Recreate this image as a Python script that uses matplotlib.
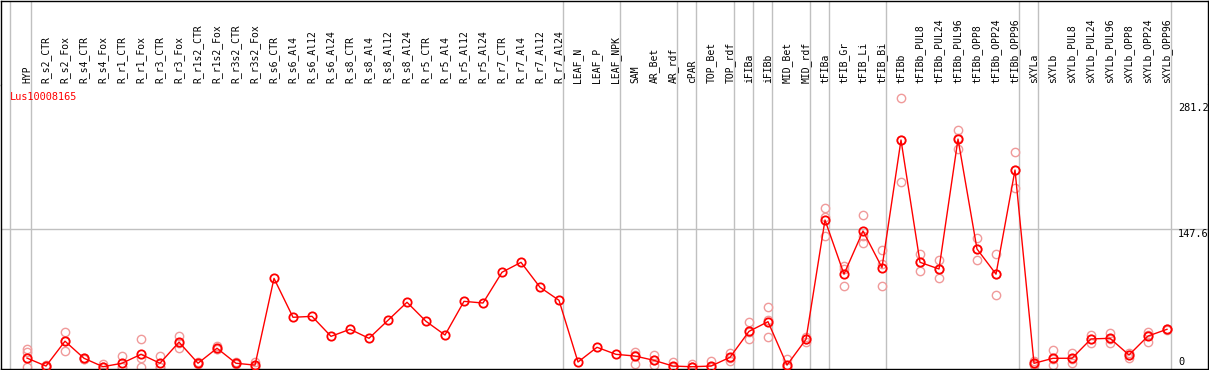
import numpy as np
import matplotlib
matplotlib.use('Agg')
import matplotlib.pyplot as plt

# sample names (columns)
samples = ['HYP', 'R_s2_CTR', 'R_s2_Fox', 'R_s4_CTR', 'R_s4_Fox', 'R_r1_CTR', 'R_r1_Fox',
           'R_r3_CTR', 'R_r3_Fox', 'R_r1s2_CTR', 'R_r1s2_Fox', 'R_r3s2_CTR', 'R_r3s2_Fox',
           'R_s6_CTR', 'R_s6_Al4', 'R_s6_Al12', 'R_s6_Al24', 'R_s8_CTR', 'R_s8_Al4',
           'R_s8_Al12', 'R_s8_Al24', 'R_r5_CTR', 'R_r5_Al4', 'R_r5_Al12', 'R_r5_Al24',
           'R_r7_CTR', 'R_r7_Al4', 'R_r7_Al12', 'R_r7_Al24', 'LEAF_N', 'LEAF_P', 'LEAF_NPK',
           'SAM', 'AR_Bet', 'AR_rdf', 'cPAR', 'TOP_Bet', 'TOP_rdf', 'iFIBa', 'iFIBb',
           'MID_Bet', 'MID_rdf', 'tFIBa', 'tFIB_Gr', 'tFIB_Li', 'tFIB_Bi', 'tFIBb',
           'tFIBb_PUL8', 'tFIBb_PUL24', 'tFIBb_PUL96', 'tFIBb_OPP8', 'tFIBb_OPP24',
           'tFIBb_OPP96', 'sXYLa', 'sXYLb', 'sXYLb_PUL8', 'sXYLb_PUL24', 'sXYLb_PUL96',
           'sXYLb_OPP8', 'sXYLb_OPP24', 'sXYLb_OPP96']

# mean expression per sample
means = [9.5, 1, 27.5, 9.3, 0.3, 4, 13.5, 4, 26.5, 4, 20, 4, 2,
         94.5, 53, 54, 32.7, 40.2, 30.6, 49.8, 69, 48.7, 34.1, 70, 68.2,
         101, 111.6, 85, 71.1, 5.3, 21, 13.5,
         11.7, 7.1, 1, 0.3, 1, 10.3, 38, 48.3, 2, 29.5,
         156.7, 99, 145, 106, 242, 111.6, 104.5, 243, 125.8, 99, 210,
         3.9, 9.3, 9.3, 29.9, 30.6, 12.8, 33, 40.2]

# replicate values (empty where none shown)
replicates = [[19, 16, 0], [1, 0, 2], [37, 17, 28], [9, 9, 10], [3, 0, 0],
              [12, 0, 0], [30, 0, 10], [12, 0, 0], [33, 20, 26], [5, 3, 4],
              [22, 19, 19], [5, 3, 4], [5, 0, 1],
              [], [], [], [], [], [], [], [], [], [], [], [], [], [], [], [],
              [], [], [],
              [16, 13, 3], [12.8, 2, 7], [5, 0, 0], [3, 0, 0], [6.7, 0, 0],
              [14.6, 6.7, 10], [47.6, 29.5, 37], [63.6, 31.7, 50], [8.2, 0, 0],
              [32, 27, 29.5],
              [170, 159.6, 140], [108, 104, 86], [162, 140, 132.5], [124.7, 110, 86],
              [286.5, 197, 242], [121, 102, 112], [114, 94.6, 105], [252.7, 232.4, 244],
              [138, 114, 126], [121, 76.8, 99], [229, 190.5, 210],
              [6, 2, 3], [18, 2, 8], [15.3, 4, 9], [34, 26, 30], [36, 26, 30],
              [15, 10, 13], [37.6, 27, 34], [41, 40, 39]]

# group boundaries (after these columns)
group_ends = [0, 28, 31, 34, 35, 37, 38, 39, 41, 42, 45, 52, 53, 60]
ytick_vals = [281.2, 147.6, 0]
gene = 'Lus10008165'

W, H = 1209, 370
fig = plt.figure(figsize=(W / 100, H / 100), dpi=100)
mono = 'DejaVu Sans Mono'

x = np.arange(len(samples))
xl = ((1 - 27) / 19, (1208 - 27) / 19)

# header with the sample names
hax = fig.add_axes([1 / W, 1 - 85 / H, 1207 / W, 84.5 / H])
hax.set_xlim(xl)
hax.set_ylim(0, 1)
hax.set_xticks([])
hax.set_yticks([])
for s in hax.spines.values():
    s.set_linewidth(1)
hax.spines['bottom'].set_visible(False)
for i, name in enumerate(samples):
    hax.text(i, 0.025, name, rotation=90, ha='center', va='bottom',
             fontsize=7, family=mono, color='black')

# main plot
ax = fig.add_axes([1 / W, 1 / H, 1207 / W, 284 / H])
ax.set_xlim(xl)
ax.set_ylim((367 - 369) / 0.938, (367 - 85) / 0.938)
ax.set_xticks([])
ax.set_yticks([])
for s in ax.spines.values():
    s.set_linewidth(1)
ax.spines['top'].set_visible(False)

sep = [-17 / 19] + [g + 3.5 / 19 for g in group_ends]
for a in (ax, hax):
    for xs in sep:
        a.axvline(xs, color='#c0c0c0', lw=1, zorder=0)
ax.axhline(147.6, color='#c0c0c0', lw=1, zorder=0)

for i, reps in enumerate(replicates):
    if reps:
        ax.plot([i] * len(reps), reps, 'o', ms=6, mfc='none', mec='#f09a9a',
                mew=1, zorder=2)
ax.plot(x, means, '-', color='#ff0000', lw=1, zorder=3)
ax.plot(x, means, 'o', ms=6, mfc='none', mec='#ff0000', mew=1.3, zorder=4)

ax.text(10 / 19 - 27 / 19, 288, gene, color='#ff0000', fontsize=7.4,
        family=mono, ha='left', va='center')
for v in ytick_vals:
    ax.text((1178 - 27) / 19, v, str(v) if v else '0', fontsize=7.4, family=mono,
            ha='left', va='top' if v else 'bottom', clip_on=False)

fig.savefig('out.png', dpi=100)
